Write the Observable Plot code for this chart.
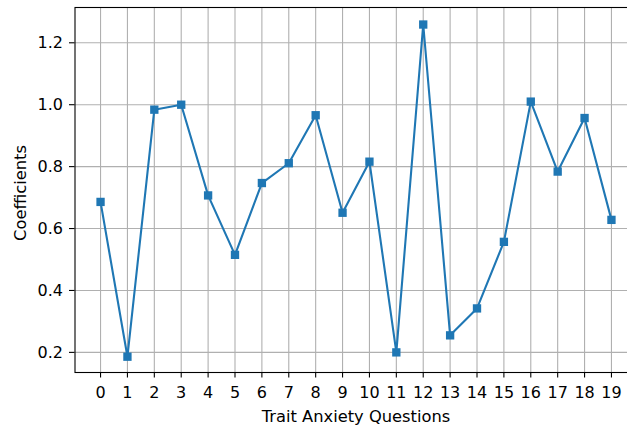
<!DOCTYPE html>
<html>
<head>
<meta charset="utf-8">
<script src="https://cdn.jsdelivr.net/npm/d3@7"></script>
<script src="https://cdn.jsdelivr.net/npm/@observablehq/plot@0.6"></script>
<style>
html, body { margin: 0; padding: 0; background: white; overflow: hidden; }
</style>
</head>
<body>
<div id="chart"></div>
<script>
const questions = [0,1,2,3,4,5,6,7,8,9,10,11,12,13,14,15,16,17,18,19];
const coefficients = [0.686, 0.186, 0.984, 1.0, 0.707, 0.515, 0.747, 0.811, 0.966, 0.651, 0.816, 0.2, 1.259, 0.255, 0.342, 0.557, 1.01, 0.784, 0.957, 0.628];
const yTicks = [0.2, 0.4, 0.6, 0.8, 1.0, 1.2];
const xLabel = "Trait Anxiety Questions";
const yLabel = "Coefficients";

const data = questions.map((q, i) => ({q, c: coefficients[i]}));
const font = "DejaVu Sans, sans-serif";
const blue = "#1f77b4";

const chart = Plot.plot({
  width: 627,
  height: 427,
  marginLeft: 74.5,
  marginRight: -9.5,
  marginTop: 7,
  marginBottom: 55,
  style: {fontFamily: font, fontSize: "16px", color: "#000", background: "white", overflow: "hidden"},
  x: {type: "linear", domain: [-0.95, 19.95]},
  y: {type: "linear", domain: [0.135, 1.314]},
  marks: [
    Plot.gridX(questions, {stroke: "#b0b0b0", strokeOpacity: 1, strokeWidth: 1.1}),
    Plot.gridY(yTicks, {stroke: "#b0b0b0", strokeOpacity: 1, strokeWidth: 1.1}),
    Plot.line(data, {x: "q", y: "c", stroke: blue, strokeWidth: 2.1}),
    Plot.dot(data, {x: "q", y: "c", symbol: "square", r: 4.7, fill: blue, stroke: null}),
    Plot.frame({stroke: "#000", strokeWidth: 1.1}),
    Plot.axisX(questions, {tickSize: 5.5, tickPadding: 9, tickFormat: d => String(d), label: null, fontSize: 16, strokeWidth: 1.1}),
    Plot.axisY(yTicks, {tickSize: 5.5, tickPadding: 6.5, tickFormat: d3.format(".1f"), label: null, fontSize: 16, strokeWidth: 1.1}),
    Plot.text([xLabel], {text: d => d, frameAnchor: "bottom", textAnchor: "middle", lineAnchor: "middle", dy: 44, fontSize: 16.3}),
    Plot.text([yLabel], {text: d => d, frameAnchor: "left", textAnchor: "middle", lineAnchor: "middle", dx: -54, dy: 3, rotate: -90, fontSize: 16.3})
  ]
});
document.getElementById("chart").appendChild(chart);
</script>
</body>
</html>
